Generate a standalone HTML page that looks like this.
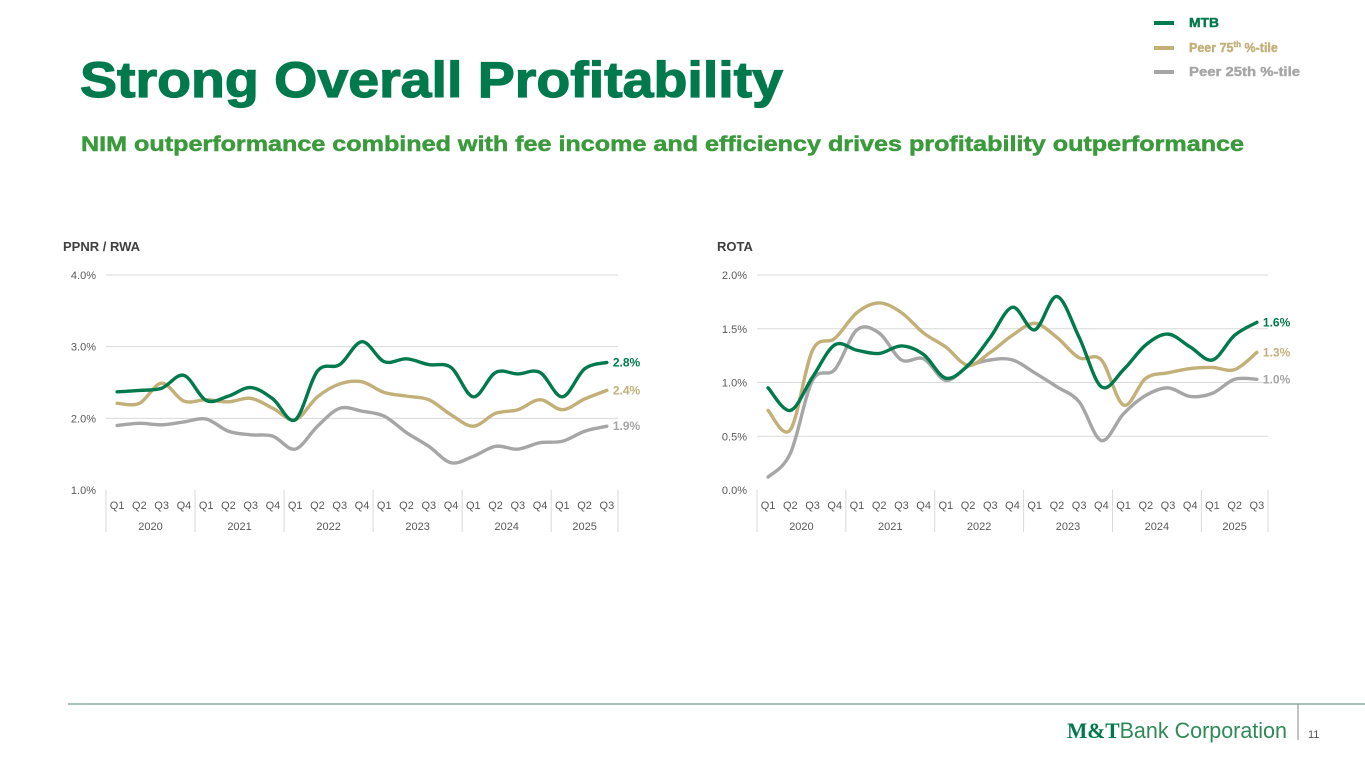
<!DOCTYPE html>
<html><head><meta charset="utf-8"><style>
html,body{margin:0;padding:0;background:#fff;}
body{width:1365px;height:768px;overflow:hidden;font-family:"Liberation Sans",Arial,sans-serif;}
svg text{font-family:"Liberation Sans",Arial,sans-serif;}
</style></head><body>
<svg id="page" width="1365" height="768" viewBox="0 0 1365 768" xmlns="http://www.w3.org/2000/svg">
<text x="80" y="97" font-size="50" font-weight="bold" fill="#007a4d" textLength="703" lengthAdjust="spacingAndGlyphs" stroke="#007a4d" stroke-width="1.2">Strong Overall Profitability</text>
<text x="81" y="151" font-size="21" font-weight="bold" fill="#3b9a3c" textLength="1163" lengthAdjust="spacingAndGlyphs" stroke="#3b9a3c" stroke-width="0.5">NIM outperformance combined with fee income and efficiency drives profitability outperformance</text>
<g>
<rect x="1154" y="21" width="20" height="4" fill="#007a4d"/>
<text x="1189" y="27" font-size="12.5" font-weight="bold" fill="#007a4d" textLength="30" lengthAdjust="spacingAndGlyphs" stroke="#007a4d" stroke-width="0.4">MTB</text>
<rect x="1154" y="46" width="20" height="4" fill="#c2b078"/>
<text x="1189" y="52" font-size="12.5" font-weight="bold" fill="#c2b078" stroke="#c2b078" stroke-width="0.4">Peer 75<tspan font-size="8" dy="-5">th</tspan><tspan dy="5"> %-tile</tspan></text>
<rect x="1154" y="70" width="20" height="4" fill="#a6a6a6"/>
<text x="1189" y="76" font-size="12.5" font-weight="bold" fill="#a6a6a6" textLength="111" lengthAdjust="spacingAndGlyphs" stroke="#a6a6a6" stroke-width="0.4">Peer 25th %-tile</text>
</g>
<text x="63" y="251" font-size="13" font-weight="bold" fill="#404040">PPNR / RWA</text>
<text x="717" y="251" font-size="13" font-weight="bold" fill="#404040">ROTA</text>
<g id="chartL"></g>
<g id="chartR"></g>
<line x1="68" y1="704" x2="1365" y2="704" stroke="#4f8a6e" stroke-width="1"/>
<line x1="1298" y1="704" x2="1298" y2="740" stroke="#888" stroke-width="1"/>
<text x="1067" y="738" font-size="22" fill="#2f8a56" textLength="220" lengthAdjust="spacingAndGlyphs"><tspan font-family="Liberation Serif" font-weight="bold" fill="#007a4d">M&amp;T</tspan><tspan>Bank Corporation</tspan></text>
<text x="1308" y="738" font-size="11" fill="#555">11</text>
</svg>
<script>
const quarters = ["Q1","Q2","Q3","Q4","Q1","Q2","Q3","Q4","Q1","Q2","Q3","Q4","Q1","Q2","Q3","Q4","Q1","Q2","Q3","Q4","Q1","Q2","Q3"];
const years = ["2020","2021","2022","2023","2024","2025"];
const ppnrMtb = [2.37,2.39,2.42,2.60,2.25,2.31,2.43,2.27,1.98,2.66,2.75,3.07,2.79,2.83,2.75,2.71,2.30,2.64,2.62,2.64,2.30,2.69,2.78];
const ppnrP75 = [2.21,2.21,2.49,2.24,2.26,2.23,2.28,2.14,1.98,2.30,2.48,2.51,2.36,2.31,2.26,2.05,1.89,2.07,2.12,2.26,2.12,2.27,2.39];
const ppnrP25 = [1.90,1.93,1.91,1.95,1.99,1.82,1.77,1.75,1.57,1.89,2.14,2.10,2.03,1.80,1.61,1.38,1.47,1.61,1.57,1.66,1.68,1.82,1.89];
const ppnrTicks = [1,2,3,4];
const ppnrEndLabels = ["2.8%","2.4%","1.9%"];
const rotaMtb = [0.95,0.74,1.05,1.35,1.30,1.27,1.34,1.26,1.04,1.16,1.42,1.70,1.49,1.80,1.42,0.96,1.12,1.35,1.45,1.33,1.21,1.44,1.56];
const rotaP75 = [0.74,0.56,1.30,1.41,1.65,1.74,1.65,1.46,1.33,1.16,1.28,1.44,1.55,1.42,1.23,1.21,0.79,1.04,1.09,1.13,1.14,1.12,1.28];
const rotaP25 = [0.12,0.34,1.02,1.12,1.49,1.46,1.21,1.22,1.02,1.15,1.21,1.21,1.09,0.96,0.82,0.46,0.71,0.88,0.95,0.87,0.90,1.03,1.03];
const rotaTicks = [0,0.5,1,1.5,2];
const rotaEndLabels = ["1.6%","1.3%","1.0%"];
const colors = ["#007a4d","#c2b078","#a6a6a6"];
const NS="http://www.w3.org/2000/svg";
function mk(tag,attrs,parent){const e=document.createElementNS(NS,tag);for(const k in attrs)e.setAttribute(k,attrs[k]);parent.appendChild(e);return e;}
function smooth(pts){let d="M"+pts[0][0]+","+pts[0][1];for(let i=0;i<pts.length-1;i++){const p0=pts[i-1]||pts[i],p1=pts[i],p2=pts[i+1],p3=pts[i+2]||p2;const t=6;d+=" C"+(p1[0]+(p2[0]-p0[0])/t)+","+(p1[1]+(p2[1]-p0[1])/t)+" "+(p2[0]-(p3[0]-p1[0])/t)+","+(p2[1]-(p3[1]-p1[1])/t)+" "+p2[0]+","+p2[1];}return d;}
function draw(g,cfg){
  const x0=cfg.left,x1=cfg.right,yTop=275,yBot=490;
  const n=quarters.length,step=(x1-x0)/n;
  const xs=i=>x0+step*(i+0.5);
  const ys=v=>yBot-(v-cfg.min)/(cfg.max-cfg.min)*(yBot-yTop);
  cfg.ticks.forEach(t=>{
    if(t!==cfg.min){const l=mk("line",{x1:x0,x2:x1,y1:ys(t),y2:ys(t),stroke:"#d9d9d9","stroke-width":1},g);
    
    }
    const tx=mk("text",{x:x0-10,y:ys(t)+4,"font-size":11,fill:"#595959","text-anchor":"end"},g);
    tx.textContent=t.toFixed(1)+"%";
    
    
  });
  quarters.forEach((q,i)=>{const tx=mk("text",{x:xs(i),y:509,"font-size":11,fill:"#595959","text-anchor":"middle"},g);tx.textContent=q;
    
    });
  years.forEach((y,k)=>{const a=k*4,b=Math.min(a+4,n);
    const l=mk("line",{x1:x0+step*a,x2:x0+step*a,y1:490,y2:532,stroke:"#d9d9d9","stroke-width":1},g);
    
    
    const tx=mk("text",{x:x0+step*(a+b)/2,y:530,"font-size":11,fill:"#595959","text-anchor":"middle"},g);tx.textContent=y;
    
    });
  const l2=mk("line",{x1:x1,x2:x1,y1:490,y2:532,stroke:"#d9d9d9","stroke-width":1},g);
  
  
  const names=["series-mtb","series-peer75","series-peer25"];
  [2,1,0].forEach(s=>{const vals=cfg.series[s];
    const p=mk("path",{d:smooth(vals.map((v,i)=>[xs(i),ys(v)])),fill:"none",stroke:colors[s],"stroke-width":3.4,"stroke-linejoin":"round","stroke-linecap":"round"},g);
    
    
    const tx=mk("text",{x:xs(n-1)+6,y:ys(vals[n-1])+4,"font-size":12,"font-weight":"bold",fill:colors[s]},g);
    tx.textContent=cfg.labels[s];
    
    });
}
draw(document.getElementById("chartL"),{left:106,right:618,min:1,max:4,ticks:ppnrTicks,series:[ppnrMtb,ppnrP75,ppnrP25],labels:ppnrEndLabels});
draw(document.getElementById("chartR"),{left:757,right:1268,min:0,max:2,ticks:rotaTicks,series:[rotaMtb,rotaP75,rotaP25],labels:rotaEndLabels});
</script>
</body></html>
